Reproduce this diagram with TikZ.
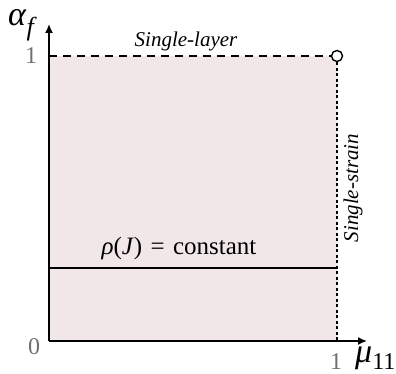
\documentclass[tikz,border=0pt]{standalone}
\usepackage{fontspec}
\setmainfont{Liberation Serif}
\usetikzlibrary{arrows.meta}
\definecolor{regionfill}{HTML}{F1E7E9}
\definecolor{ticklabel}{HTML}{707070}
\begin{document}
\begin{tikzpicture}[x=1pt,y=1pt,
  axis/.style={line width=1.6pt,-{Latex[length=9pt,width=8pt]}},
  ticktxt/.style={text=ticklabel,font=\fontsize{24}{24}\selectfont,inner sep=0pt},
  bigtxt/.style={font=\fontsize{34}{34}\selectfont,inner sep=0pt},
  edgetxt/.style={font=\fontsize{21}{21}\selectfont\itshape,inner sep=0pt}]
\useasboundingbox (0,0) rectangle (396,374);
\fill[regionfill] (49,33) rectangle (337,318);
\coordinate (O) at (49,33);
\coordinate (X) at (367,33);
\coordinate (Y) at (49,350);
\coordinate (Y1) at (49,318);
\coordinate (X1) at (337,33);
\coordinate (L0) at (49,106);
\coordinate (L1) at (337,106);
\node[draw,circle,line width=1.4pt,minimum size=11pt,inner sep=0pt,fill=white] (P) at (337,318) {};
\draw[line width=1.3pt,dash pattern=on 8pt off 6pt] (Y1) -- (P.west);
\draw[line width=1.3pt,dash pattern=on 3pt off 2.5pt] (P.south) -- (X1);
\draw[line width=1.1pt] (L0) -- (L1);
\draw[axis] (O) -- (X);
\draw[axis] (O) -- (Y);
\node[ticktxt] (zero) at (34,27) {0};
\node[ticktxt] (xone) at (336,12) {1};
\node[ticktxt] (yone) at (31,318) {1};
\node[bigtxt,anchor=west] (mu) at (355,16) {\textit{μ}\raisebox{-0.22em}{\fontsize{24}{24}\selectfont 11}};
\node[bigtxt,anchor=west] (alpha) at (8,349) {\textit{α}\raisebox{-0.3em}{\fontsize{26}{26}\selectfont\textit{f}}};
\node[edgetxt] (sl) at (186,333) {Single-layer};
\node[edgetxt,rotate=90] (ss) at (353,186) {Single-strain};
\node[font=\fontsize{25}{25}\selectfont,inner sep=0pt] (rho) at (179,126) {\textit{ρ}(\textit{J})\,\,=\,\,constant};
\end{tikzpicture}
\end{document}
